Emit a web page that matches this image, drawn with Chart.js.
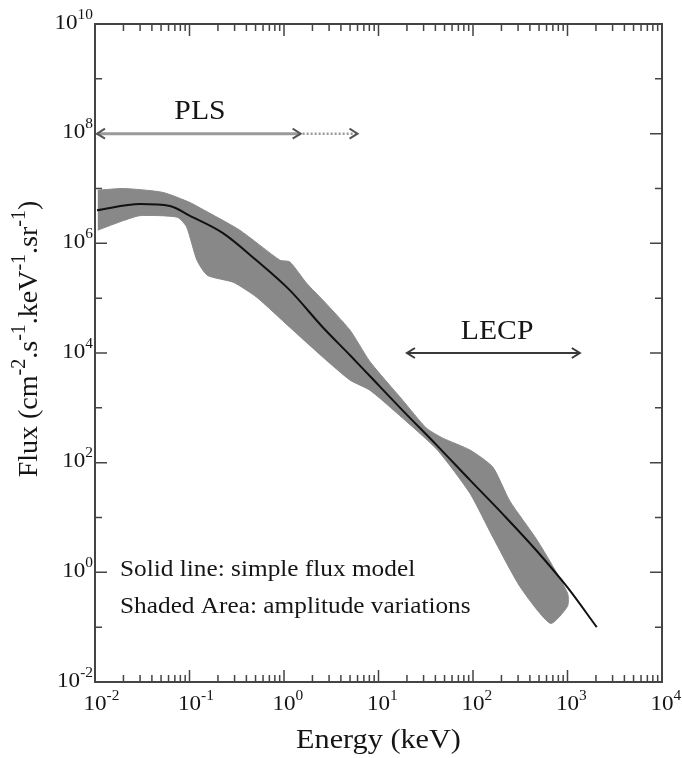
<!DOCTYPE html>
<html>
<head>
<meta charset="utf-8">
<script src="https://cdn.jsdelivr.net/npm/chart.js@4.4.1/dist/chart.umd.min.js"></script>
<style>
    html, body { margin: 0; padding: 0; background: #fff; }
    #wrap { width: 682px; height: 758px; }
</style>
</head>
<body>
<div id="wrap"><canvas id="fluxChart" width="682" height="758"></canvas></div>
<script>
// model curve, energy in keV / flux in cm-2 s-1 keV-1 sr-1
const modelEnergy = [0.0105, 0.03, 0.062, 0.1, 0.224, 0.51, 1.15, 2.57, 5.0, 8.1, 18.2, 41.7, 93, 209, 479, 1000, 2040];
const modelFlux = [4.0e6, 5.2e6, 4.8e6, 3.2e6, 1.55e6, 4.9e5, 1.4e5, 2.95e4, 9.1e3, 3.8e3, 880, 205, 48, 11.3, 2.4, 0.53, 0.10];

// shaded area (amplitude variations), upper and lower edges
const bandUpperEnergy = [0.0107, 0.02, 0.052, 0.1, 0.13, 0.34, 0.91, 1.15, 1.74, 2.6, 5.0, 8.1, 18, 32, 48, 93, 162, 245, 480, 1000];
const bandUpperFlux = [9.3e6, 1.0e7, 8.5e6, 5.6e6, 4.4e6, 1.74e6, 4.9e5, 4.6e5, 1.86e5, 9.1e4, 2.6e4, 7.0e3, 1.38e3, 430, 280, 170, 83, 20, 3.8, 0.42];
const bandLowerEnergy = [0.0107, 0.02, 0.03, 0.074, 0.093, 0.12, 0.155, 0.29, 0.51, 1.15, 2.6, 5.0, 8.1, 18, 42, 93, 162, 316, 660, 1000];
const bandLowerFlux = [1.74e6, 2.6e6, 3.2e6, 3.0e6, 2.0e6, 4.9e5, 2.6e5, 1.95e5, 1.05e5, 2.95e4, 8.3e3, 3.2e3, 2.1e3, 650, 170, 27.5, 4.4, 0.54, 0.117, 0.24];

// tick decades
const xTickDecades = [-2, -1, 0, 1, 2, 3, 4];
const yTickDecades = [-2, 0, 2, 4, 6, 8, 10];

// instrument ranges
const plsRange = [0.0105, 1.5];
const plsExtended = [1.5, 6];
const plsFlux = 1e8;
const lecpRange = [20, 1350];
const lecpFlux = 1e4;

const SERIF = '"Liberation Serif", "Times New Roman", serif';
const SX = 1.1;
const INK = "#151515";

const toPoints = (xs, ys) => xs.map((x, i) => ({ x, y: ys[i] }));
// closed outline: upper edge left->right, lower edge right->left
const bandPolygon = toPoints(bandUpperEnergy, bandUpperFlux)
    .concat(toPoints(bandLowerEnergy, bandLowerFlux).reverse());

function richWidth(ctx, parts, size, supScale) {
    let w = 0;
    parts.forEach(([s, sup]) => {
        ctx.font = (sup ? Math.round(size * supScale) : size) + "px " + SERIF;
        w += ctx.measureText(s).width;
    });
    return w;
}

// y is the middle of the base text
function drawRich(ctx, parts, x, y, size, align, opts = {}) {
    const supScale = opts.supScale || 0.65;
    const sx = opts.sx || SX;
    const w = richWidth(ctx, parts, size, supScale);
    ctx.save();
    ctx.translate(x, y);
    if (opts.rotate) ctx.rotate(opts.rotate);
    ctx.scale(sx, 1);
    let cx = align === "center" ? -w / 2 : align === "right" ? -w : 0;
    ctx.textBaseline = "middle";
    ctx.textAlign = "left";
    ctx.fillStyle = INK;
    parts.forEach(([s, sup]) => {
        const fs = sup ? Math.round(size * supScale) : size;
        ctx.font = fs + "px " + SERIF;
        ctx.fillText(s, cx, sup ? -size * 0.38 : 0);
        cx += ctx.measureText(s).width;
    });
    ctx.restore();
}

function chevron(ctx, x, y, dir) {
    ctx.beginPath();
    ctx.moveTo(x - dir * 8, y - 5);
    ctx.lineTo(x, y);
    ctx.lineTo(x - dir * 8, y + 5);
    ctx.stroke();
}

const framePlugin = {
    id: "frame",
    afterDraw(chart) {
        const ctx = chart.ctx;
        const { left, right, top, bottom } = chart.chartArea;
        const xs = chart.scales.x;
        const ys = chart.scales.y;

        ctx.save();
        ctx.strokeStyle = "#444";
        ctx.lineWidth = 2;
        ctx.strokeRect(left, top, right - left, bottom - top);

        // x ticks, top and bottom, pointing inward
        ctx.lineWidth = 1.5;
        xTickDecades.forEach(d => {
            for (let m = 1; m <= 9; m++) {
                const v = m * Math.pow(10, d);
                if (v > xs.max * 1.0001) break;
                const px = xs.getPixelForValue(v);
                const len = m === 1 ? 12 : 7;
                ctx.beginPath();
                ctx.moveTo(px, bottom);
                ctx.lineTo(px, bottom - len);
                ctx.moveTo(px, top);
                ctx.lineTo(px, top + len);
                ctx.stroke();
            }
        });

        // y ticks at each decade
        for (let d = -2; d <= 10; d++) {
            const py = ys.getPixelForValue(Math.pow(10, d));
            const len = d % 2 === 0 ? 12 : 7;
            ctx.beginPath();
            ctx.moveTo(left, py);
            ctx.lineTo(left + len, py);
            ctx.moveTo(right, py);
            ctx.lineTo(right - len, py);
            ctx.stroke();
        }

        // tick labels
        xTickDecades.forEach(d => {
            const px = xs.getPixelForValue(Math.pow(10, d));
            ctx.font = "21px " + SERIF;
            const w10 = ctx.measureText("10").width * SX;
            drawRich(ctx, [["10", 0], [String(d), 1]], px - w10 / 2, bottom + 22, 21, "left");
        });
        yTickDecades.forEach(d => {
            const py = ys.getPixelForValue(Math.pow(10, d));
            drawRich(ctx, [["10", 0], [String(d), 1]], left - 2, py - 1, 21, "right");
        });

        // axis titles
        drawRich(ctx, [["Energy (keV)", 0]], (left + right) / 2, bottom + 59, 27, "center", { sx: 1.12 });
        drawRich(ctx, [["Flux (cm", 0], ["-2", 1], [".s", 0], ["-1", 1], [".keV", 0], ["-1", 1], [".sr", 0], ["-1", 1], [")", 0]],
            30, 339, 28, "center", { sx: 1, supScale: 0.7, rotate: -Math.PI / 2 });

        // PLS range arrow
        const yPls = ys.getPixelForValue(plsFlux);
        const p0 = xs.getPixelForValue(plsRange[0]);
        const p1 = xs.getPixelForValue(plsRange[1]);
        const p2 = xs.getPixelForValue(plsExtended[1]);
        ctx.strokeStyle = "#9a9a9a";
        ctx.lineWidth = 3;
        ctx.beginPath();
        ctx.moveTo(p0, yPls);
        ctx.lineTo(p1, yPls);
        ctx.stroke();
        ctx.setLineDash([2, 2]);
        ctx.lineWidth = 2.5;
        ctx.beginPath();
        ctx.moveTo(p1 + 2, yPls);
        ctx.lineTo(p2, yPls);
        ctx.stroke();
        ctx.setLineDash([]);
        ctx.strokeStyle = "#555";
        ctx.lineWidth = 2;
        chevron(ctx, p0, yPls, -1);
        chevron(ctx, p1, yPls, 1);
        chevron(ctx, p2, yPls, 1);

        // LECP range arrow
        const yL = ys.getPixelForValue(lecpFlux);
        const l0 = xs.getPixelForValue(lecpRange[0]);
        const l1 = xs.getPixelForValue(lecpRange[1]);
        ctx.strokeStyle = "#3a3a3a";
        ctx.lineWidth = 2;
        ctx.beginPath();
        ctx.moveTo(l0, yL);
        ctx.lineTo(l1, yL);
        ctx.stroke();
        chevron(ctx, l0, yL, -1);
        chevron(ctx, l1, yL, 1);

        // labels inside the plot
        drawRich(ctx, [["PLS", 0]], xs.getPixelForValue(0.129), ys.getPixelForValue(2.5e8), 27, "center");
        drawRich(ctx, [["LECP", 0]], xs.getPixelForValue(180), ys.getPixelForValue(2.4e4), 27, "center");
        drawRich(ctx, [["Solid line: simple flux model", 0]], xs.getPixelForValue(0.0184), ys.getPixelForValue(1.09), 23, "left");
        drawRich(ctx, [["Shaded Area: amplitude variations", 0]], xs.getPixelForValue(0.0184), ys.getPixelForValue(0.23), 23, "left");
        ctx.restore();
    }
};

new Chart(document.getElementById("fluxChart"), {
    type: "scatter",
    data: {
        datasets: [
            {
                label: "Simple flux model",
                data: toPoints(modelEnergy, modelFlux),
                showLine: true,
                fill: false,
                borderColor: "#111",
                borderWidth: 2,
                pointRadius: 0,
                cubicInterpolationMode: "monotone",
                order: 0
            },
            {
                label: "Amplitude variations",
                data: bandPolygon,
                showLine: true,
                fill: "shape",
                backgroundColor: "#888888",
                borderColor: "#888888",
                borderWidth: 1,
                pointRadius: 0,
                tension: 0.2,
                order: 1
            }
        ]
    },
    options: {
        responsive: false,
        animation: false,
        devicePixelRatio: 1,
        layout: { padding: { left: 95, right: 20, top: 24, bottom: 76 } },
        plugins: { legend: { display: false }, tooltip: { enabled: false } },
        scales: {
            x: { type: "logarithmic", min: 0.01, max: 1e4, display: false },
            y: { type: "logarithmic", min: 0.01, max: 1e10, display: false }
        }
    },
    plugins: [framePlugin]
});
</script>
</body>
</html>
